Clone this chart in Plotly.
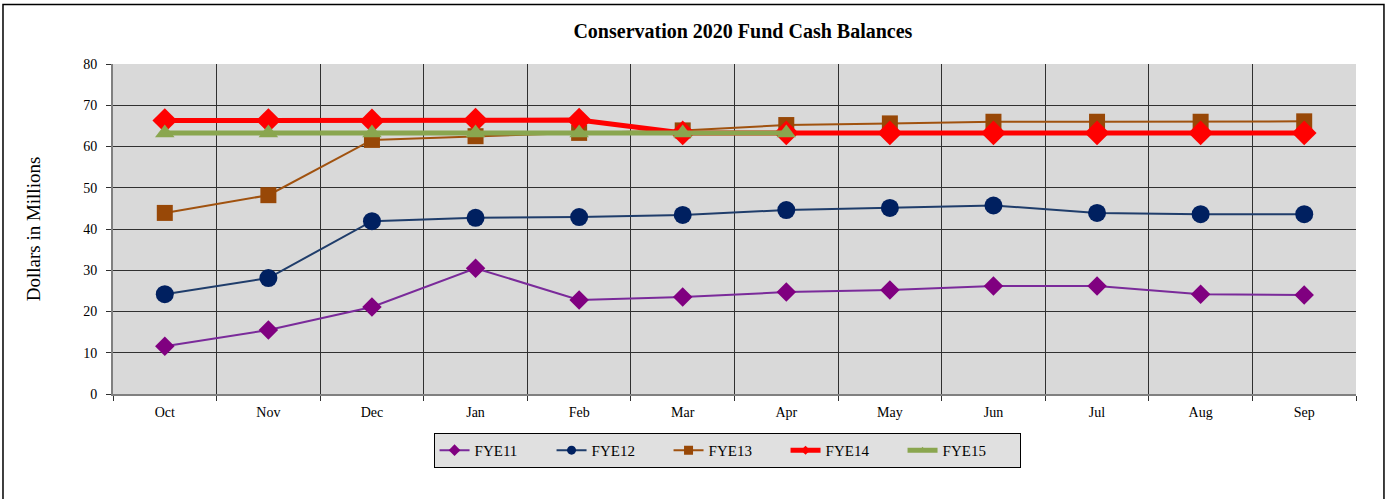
import plotly.graph_objects as go

months = ["Oct", "Nov", "Dec", "Jan", "Feb", "Mar", "Apr", "May", "Jun", "Jul", "Aug", "Sep"]
fye11 = [11.6, 15.5, 21.1, 30.5, 22.8, 23.5, 24.7, 25.2, 26.2, 26.2, 24.2, 24.0]
fye12 = [24.2, 28.1, 41.9, 42.7, 42.9, 43.4, 44.6, 45.1, 45.7, 43.9, 43.6, 43.6]
fye13 = [43.9, 48.2, 61.6, 62.5, 63.3, 63.9, 65.2, 65.6, 66.0, 66.0, 66.0, 66.1]
fye14 = [66.3, 66.3, 66.2, 66.4, 66.4, 63.3, 63.3, 63.3, 63.3, 63.3, 63.3, 63.3]
fye15 = [63.3, 63.3, 63.3, 63.3, 63.3, 63.3, 63.3, None, None, None, None, None]

series = [
    ("FYE11", fye11, "#7a2a9a", "#800080", 2, "diamond", 15, 9),
    ("FYE12", fye12, "#1f3d6b", "#002060", 2, "circle", 18, 9),
    ("FYE13", fye13, "#a0520f", "#984807", 2, "square", 16, 9),
    ("FYE14", fye14, "#ff0000", "#ff0000", 5, "diamond", 19, 7),
    ("FYE15", fye15, "#8aa64f", "#8aa64f", 5, "triangle-up", 17, 7),
]

fig = go.Figure()
for name, vals, lc, mc, lw, sym, ms, lms in series:
    fig.add_trace(go.Scatter(
        x=months, y=vals, mode="lines+markers", name=name, showlegend=False,
        line=dict(color=lc, width=lw),
        marker=dict(symbol=sym, size=ms, color=mc),
    ))
for name, vals, lc, mc, lw, sym, ms, lms in series:
    fig.add_trace(go.Scatter(
        x=[None], y=[None], mode="lines+markers", name=name, showlegend=True,
        line=dict(color=lc, width=lw),
        marker=dict(symbol=sym, size=lms, color=mc),
    ))

font_family = "Liberation Serif, DejaVu Serif, serif"
fig.update_layout(
    width=1386, height=499,
    margin=dict(l=113, r=30, t=64, b=105),
    paper_bgcolor="white",
    plot_bgcolor="#d9d9d9",
    font=dict(family=font_family, size=14, color="black"),
    title=dict(text="<b>Conservation 2020 Fund Cash Balances</b>",
               x=0.536, xanchor="center", y=0.938, yanchor="middle",
               font=dict(size=20, family=font_family)),
    showlegend=True,
    legend=dict(orientation="h", x=0.494, xanchor="center", y=-0.118, yanchor="top",
                bgcolor="#e0e0e0", bordercolor="black", borderwidth=1,
                font=dict(size=15, family=font_family), entrywidth=72,
                itemclick=False),
    xaxis=dict(
        type="category", categoryorder="array", categoryarray=months,
        range=[-0.5, 11.5],
        tickson="boundaries", showgrid=True, gridcolor="#303030", gridwidth=1,
        showline=True, linecolor="#808080", linewidth=2,
        ticks="outside", ticklen=5, tickcolor="#303030",
        tickfont=dict(size=14), zeroline=False, ticklabelstandoff=4,
    ),
    yaxis=dict(
        range=[0, 80], dtick=10, showgrid=True, gridcolor="#303030", gridwidth=1,
        showline=True, linecolor="#808080", linewidth=2,
        ticks="outside", ticklen=5, tickcolor="#303030",
        tickfont=dict(size=14), zeroline=False, ticklabelstandoff=6,
        title=dict(text="Dollars in Millions", font=dict(size=19), standoff=38),
    ),
    shapes=[dict(type="rect", xref="paper", yref="paper",
                 x0=-0.0885, x1=1.0225, y0=-0.335, y1=1.18,
                 line=dict(color="black", width=1.5), fillcolor="rgba(0,0,0,0)", layer="above")],
)

fig.write_html("out.html")
